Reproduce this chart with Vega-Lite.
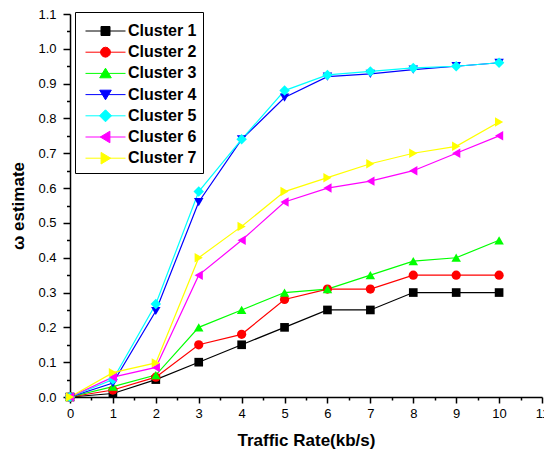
{
  "$schema": "https://vega.github.io/schema/vega-lite/v6.json",
  "width": 472,
  "height": 383,
  "autosize": {"type": "none"},
  "padding": {"left": 70, "top": 14, "right": 2, "bottom": 58},
  "background": "white",
  "config": {"view": {"stroke": null}, "font": "Liberation Sans"},
  "data": {
    "values": [
      {"c": "Cluster 1", "x": 0, "y": 0}, {"c": "Cluster 1", "x": 1, "y": 0.01}, {"c": "Cluster 1", "x": 2, "y": 0.05}, {"c": "Cluster 1", "x": 3, "y": 0.1}, {"c": "Cluster 1", "x": 4, "y": 0.15}, {"c": "Cluster 1", "x": 5, "y": 0.2}, {"c": "Cluster 1", "x": 6, "y": 0.25}, {"c": "Cluster 1", "x": 7, "y": 0.25}, {"c": "Cluster 1", "x": 8, "y": 0.3}, {"c": "Cluster 1", "x": 9, "y": 0.3}, {"c": "Cluster 1", "x": 10, "y": 0.3},
      {"c": "Cluster 2", "x": 0, "y": 0}, {"c": "Cluster 2", "x": 1, "y": 0.02}, {"c": "Cluster 2", "x": 2, "y": 0.057}, {"c": "Cluster 2", "x": 3, "y": 0.15}, {"c": "Cluster 2", "x": 4, "y": 0.18}, {"c": "Cluster 2", "x": 5, "y": 0.28}, {"c": "Cluster 2", "x": 6, "y": 0.31}, {"c": "Cluster 2", "x": 7, "y": 0.31}, {"c": "Cluster 2", "x": 8, "y": 0.35}, {"c": "Cluster 2", "x": 9, "y": 0.35}, {"c": "Cluster 2", "x": 10, "y": 0.35},
      {"c": "Cluster 3", "x": 0, "y": 0}, {"c": "Cluster 3", "x": 1, "y": 0.03}, {"c": "Cluster 3", "x": 2, "y": 0.063}, {"c": "Cluster 3", "x": 3, "y": 0.2}, {"c": "Cluster 3", "x": 4, "y": 0.25}, {"c": "Cluster 3", "x": 5, "y": 0.3}, {"c": "Cluster 3", "x": 6, "y": 0.31}, {"c": "Cluster 3", "x": 7, "y": 0.35}, {"c": "Cluster 3", "x": 8, "y": 0.39}, {"c": "Cluster 3", "x": 9, "y": 0.4}, {"c": "Cluster 3", "x": 10, "y": 0.45},
      {"c": "Cluster 4", "x": 0, "y": 0}, {"c": "Cluster 4", "x": 1, "y": 0.04}, {"c": "Cluster 4", "x": 2, "y": 0.247}, {"c": "Cluster 4", "x": 3, "y": 0.56}, {"c": "Cluster 4", "x": 4, "y": 0.74}, {"c": "Cluster 4", "x": 5, "y": 0.86}, {"c": "Cluster 4", "x": 6, "y": 0.92}, {"c": "Cluster 4", "x": 7, "y": 0.928}, {"c": "Cluster 4", "x": 8, "y": 0.94}, {"c": "Cluster 4", "x": 9, "y": 0.95}, {"c": "Cluster 4", "x": 10, "y": 0.96},
      {"c": "Cluster 5", "x": 0, "y": 0}, {"c": "Cluster 5", "x": 1, "y": 0.05}, {"c": "Cluster 5", "x": 2, "y": 0.267}, {"c": "Cluster 5", "x": 3, "y": 0.59}, {"c": "Cluster 5", "x": 4, "y": 0.74}, {"c": "Cluster 5", "x": 5, "y": 0.88}, {"c": "Cluster 5", "x": 6, "y": 0.925}, {"c": "Cluster 5", "x": 7, "y": 0.935}, {"c": "Cluster 5", "x": 8, "y": 0.945}, {"c": "Cluster 5", "x": 9, "y": 0.95}, {"c": "Cluster 5", "x": 10, "y": 0.96},
      {"c": "Cluster 6", "x": 0, "y": 0}, {"c": "Cluster 6", "x": 1, "y": 0.057}, {"c": "Cluster 6", "x": 2, "y": 0.085}, {"c": "Cluster 6", "x": 3, "y": 0.35}, {"c": "Cluster 6", "x": 4, "y": 0.45}, {"c": "Cluster 6", "x": 5, "y": 0.56}, {"c": "Cluster 6", "x": 6, "y": 0.6}, {"c": "Cluster 6", "x": 7, "y": 0.62}, {"c": "Cluster 6", "x": 8, "y": 0.65}, {"c": "Cluster 6", "x": 9, "y": 0.7}, {"c": "Cluster 6", "x": 10, "y": 0.75},
      {"c": "Cluster 7", "x": 0, "y": 0}, {"c": "Cluster 7", "x": 1, "y": 0.07}, {"c": "Cluster 7", "x": 2, "y": 0.098}, {"c": "Cluster 7", "x": 3, "y": 0.4}, {"c": "Cluster 7", "x": 4, "y": 0.49}, {"c": "Cluster 7", "x": 5, "y": 0.59}, {"c": "Cluster 7", "x": 6, "y": 0.63}, {"c": "Cluster 7", "x": 7, "y": 0.67}, {"c": "Cluster 7", "x": 8, "y": 0.7}, {"c": "Cluster 7", "x": 9, "y": 0.72}, {"c": "Cluster 7", "x": 10, "y": 0.79}
    ]
  },
  "encoding": {
    "x": {
      "field": "x", "type": "quantitative",
      "scale": {"domain": [0, 11], "nice": false, "zero": false},
      "axis": {
        "values": [0, 0.5, 1, 1.5, 2, 2.5, 3, 3.5, 4, 4.5, 5, 5.5, 6, 6.5, 7, 7.5, 8, 8.5, 9, 9.5, 10, 10.5, 11],
        "labelExpr": "datum.value % 1 == 0 ? format(datum.value, 'd') : ''",
        "tickSize": {"condition": {"test": "datum.value % 1 == 0", "value": 6}, "value": 3},
        "grid": false,
        "domainColor": "black", "domainWidth": 1.5,
        "tickColor": "black", "tickWidth": 1.5,
        "labelFont": "Liberation Sans", "labelFontSize": 13, "labelColor": "black",
        "labelPadding": 4, "labelOverlap": false, "labelFlush": false,
        "title": "Traffic Rate(kb/s)",
        "titleFont": "Liberation Sans", "titleFontSize": 17, "titleFontWeight": "bold", "titleColor": "black",
        "titlePadding": 12
      }
    },
    "y": {
      "field": "y", "type": "quantitative",
      "scale": {"domain": [0, 1.1], "nice": false},
      "axis": {
        "values": [0, 0.05, 0.1, 0.15, 0.2, 0.25, 0.3, 0.35, 0.4, 0.45, 0.5, 0.55, 0.6, 0.65, 0.7, 0.75, 0.8, 0.85, 0.9, 0.95, 1.0, 1.05, 1.1],
        "labelExpr": "abs(datum.value * 10 - round(datum.value * 10)) < 0.001 ? format(datum.value, '.1f') : ''",
        "tickSize": {"condition": {"test": "abs(datum.value * 10 - round(datum.value * 10)) < 0.001", "value": 7}, "value": 3.5},
        "grid": false,
        "domainColor": "black", "domainWidth": 1.5,
        "tickColor": "black", "tickWidth": 1.5,
        "labelFont": "Liberation Sans", "labelFontSize": 13, "labelColor": "black",
        "labelPadding": 7, "labelOverlap": false, "labelFlush": false,
        "title": "ω estimate",
        "titleFont": "Liberation Sans", "titleFontSize": 17, "titleFontWeight": "bold", "titleColor": "black",
        "titlePadding": 10
      }
    },
    "color": {
      "field": "c", "type": "nominal",
      "scale": {
        "domain": ["Cluster 1", "Cluster 2", "Cluster 3", "Cluster 4", "Cluster 5", "Cluster 6", "Cluster 7"],
        "range": ["#000000", "#ff0000", "#00ff00", "#0000ff", "#00ffff", "#ff00ff", "#ffff00"]
      },
      "legend": {
        "orient": "none", "legendX": 5, "legendY": -2,
        "title": null,
        "strokeColor": "black", "fillColor": "white",
        "padding": 6,
        "symbolSize": 100,
        "symbolOffset": 4,
        "labelOffset": 2,
        "rowPadding": 0.2,
        "labelFont": "Liberation Sans", "labelFontSize": 16, "labelFontWeight": "bold", "labelColor": "black",
        "encode": {
          "symbols": {
            "update": {
              "y": {"value": 13},
              "shape": {"signal": "datum.value == 'Cluster 1' ? 'M-1,0H1M-0.225,-0.225H0.225V0.225H-0.225Z' : datum.value == 'Cluster 2' ? 'M-1,0H1M0.25,0L0.2165,0.125L0.125,0.2165L0,0.25L-0.125,0.2165L-0.2165,0.125L-0.25,0L-0.2165,-0.125L-0.125,-0.2165L0,-0.25L0.125,-0.2165L0.2165,-0.125Z' : datum.value == 'Cluster 3' ? 'M-1,0H1M0,-0.26L0.29,0.22L-0.29,0.22Z' : datum.value == 'Cluster 4' ? 'M-1,0H1M0,0.26L0.29,-0.22L-0.29,-0.22Z' : datum.value == 'Cluster 5' ? 'M-1,0H1M0,-0.3L0.3,0L0,0.3L-0.3,0Z' : datum.value == 'Cluster 6' ? 'M-1,0H1M-0.26,0L0.22,-0.29L0.22,0.29Z' : 'M-1,0H1M0.26,0L-0.22,-0.29L-0.22,0.29Z'"},
              "size": {"value": 1600},
              "fill": {"scale": "color", "field": "value"},
              "stroke": {"scale": "color", "field": "value"},
              "strokeWidth": {"value": 1},
              "opacity": {"value": 1}
            }
          },
          "labels": {
            "update": {
              "y": {"value": 13}
            }
          }
        }
      }
    }
  },
  "layer": [
    {"mark": {"type": "line", "strokeWidth": 1.2}},
    {"transform": [{"filter": "datum.c == 'Cluster 1'"}], "mark": {"type": "point", "shape": "square", "filled": true, "size": 75, "opacity": 1}},
    {"transform": [{"filter": "datum.c == 'Cluster 2'"}], "mark": {"type": "point", "shape": "circle", "filled": true, "size": 85, "opacity": 1}},
    {"transform": [{"filter": "datum.c == 'Cluster 3'"}], "mark": {"type": "point", "shape": "triangle-up", "filled": true, "size": 90, "opacity": 1}},
    {"transform": [{"filter": "datum.c == 'Cluster 4'"}], "mark": {"type": "point", "shape": "triangle-down", "filled": true, "size": 90, "opacity": 1}},
    {"transform": [{"filter": "datum.c == 'Cluster 5'"}], "mark": {"type": "point", "shape": "diamond", "filled": true, "size": 110, "opacity": 1}},
    {"transform": [{"filter": "datum.c == 'Cluster 6'"}], "mark": {"type": "point", "shape": "triangle-left", "filled": true, "size": 90, "opacity": 1}},
    {"transform": [{"filter": "datum.c == 'Cluster 7'"}], "mark": {"type": "point", "shape": "triangle-right", "filled": true, "size": 90, "opacity": 1}}
  ]
}
